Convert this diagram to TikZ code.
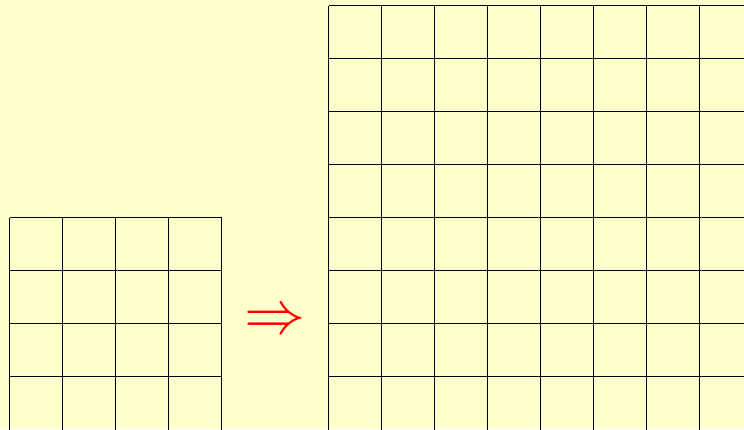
\documentclass[tikz,border=0pt]{standalone}
\begin{document}
\begin{tikzpicture}[x=1pt,y=-1pt,
  gridline/.style={draw=black,line width=0.9pt},
  arrowsym/.style={text=red,inner sep=0pt,scale=6.1}]
\definecolor{bgyellow}{RGB}{255,255,204}
\fill[bgyellow] (0,0) rectangle (744,429);
\useasboundingbox (0,0) rectangle (744,429);
\begin{scope}
\clip (0,0) rectangle (744,429);
% left 4x4 grid (bottom edge cut off)
\foreach \i in {0,...,4} {
  \draw[gridline] (9.5+53*\i,217.5) -- (9.5+53*\i,432);
}
\foreach \i in {0,...,3} {
  \draw[gridline] (9.5,217.5+53*\i) -- (221.5,217.5+53*\i);
}
% right 8x8 grid (bottom and right edges cut off)
\foreach \i in {0,...,8} {
  \draw[gridline] (328.5+53*\i,5.5) -- (328.5+53*\i,432);
}
\foreach \i in {0,...,7} {
  \draw[gridline] (328.5,5.5+53*\i) -- (752.5,5.5+53*\i);
}
\end{scope}
\node[arrowsym] (arr) at (275,322.5) {$\Rightarrow$};
\end{tikzpicture}
\end{document}
